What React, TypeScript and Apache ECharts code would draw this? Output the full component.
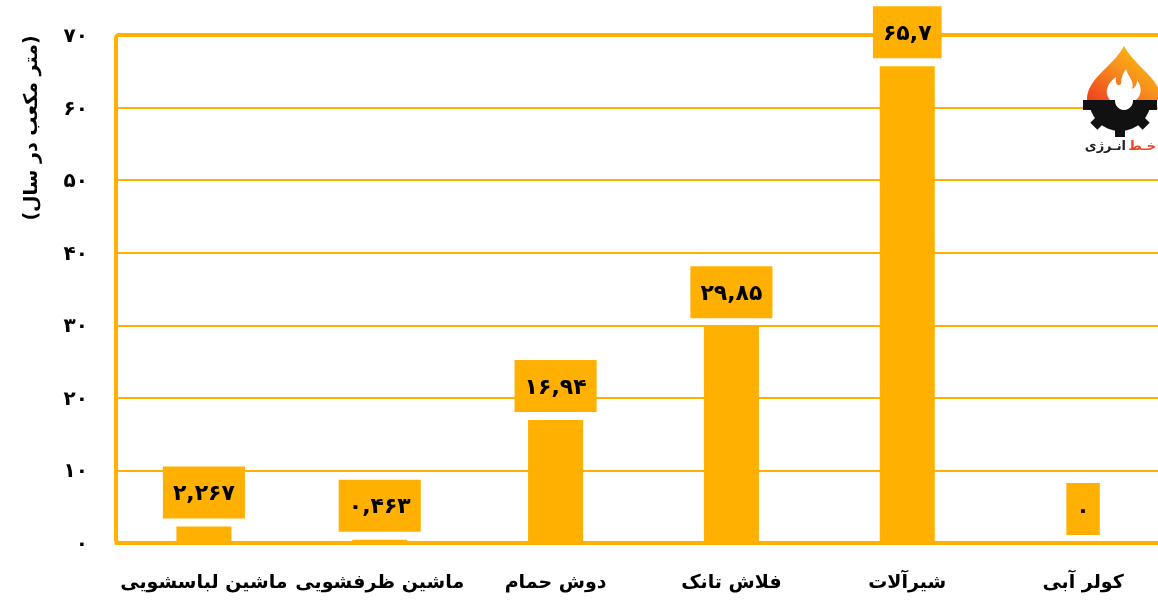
import React, { useEffect, useRef } from "react";
import * as echarts from "echarts";

const categories = [
  "ماشین لباسشویی",
  "ماشین ظرفشویی",
  "دوش حمام",
  "فلاش تانک",
  "شیرآلات",
  "کولر آبی",
];
const values = [2.267, 0.463, 16.94, 29.85, 65.7, 0];
const yMin = 0;
const yMax = 70;
const yStep = 10;
const yAxisTitle = "(متر مکعب در سال)";
const logoRed = "خـط";
const logoBlack = "انـرژی";

const ORANGE = "#FFB000";
const FONT = "DejaVu Sans";

const toFa = (v: number | string) =>
  String(v)
    .replace(/\./g, ",")
    .replace(/[0-9]/g, (d) => "۰۱۲۳۴۵۶۷۸۹"[Number(d)]);

let registered = false;
function registerShapes() {
  if (registered) return;
  registered = true;
  echarts.graphic.registerShape(
    "flameOuter",
    echarts.graphic.extendPath(
      "M1087 100 C1087 78 1112 68 1124 46 C1136 68 1161 78 1161 100 Z",
      {}
    ) as any
  );
  echarts.graphic.registerShape(
    "flameInner",
    echarts.graphic.extendPath(
      "M1110 100 C1103 91 1109 82 1116 77 C1115 84 1118 87 1121 84 C1121 78 1123 73 1126 69 C1128 77 1135 81 1132 89 C1136 87 1137 84 1137 80 C1143 88 1141 96 1136 100 Z",
      {}
    ) as any
  );
}

export default function App() {
  const ref = useRef<HTMLDivElement>(null);
  useEffect(() => {
    if (!ref.current) return;
    registerShapes();
    const chart = echarts.init(ref.current, undefined, { renderer: "svg" });

    const gx = 1120;
    const gy = 100;
    const teeth = [0, 45, 90, 135, 180].map((deg) => {
      const a = (deg * Math.PI) / 180;
      const R = 31;
      const cx = gx + R * Math.cos(a);
      const cy = gy + R * Math.sin(a) + (deg === 0 || deg === 180 ? 5 : 0);
      return {
        type: "rect",
        x: cx,
        y: cy,
        rotation: -a,
        shape: { x: -6, y: -5, width: 12, height: 10 },
        style: { fill: "#111" },
        z: 10,
      };
    });

    chart.setOption({
      animation: false,
      grid: {
        left: 116,
        top: 35,
        width: 1055,
        height: 508,
        containLabel: false,
        outerBoundsMode: "none",
      },
      xAxis: {
        type: "category",
        data: categories,
        axisLine: { show: true, lineStyle: { color: ORANGE, width: 3 } },
        axisTick: { show: false },
        axisLabel: {
          interval: 0,
          margin: 28,
          color: "#000",
          fontFamily: FONT,
          fontWeight: "bold",
          fontSize: 19,
        },
      },
      yAxis: {
        type: "value",
        min: yMin,
        max: yMax,
        interval: yStep,
        axisLine: { show: false },
        axisTick: { show: false },
        splitLine: { lineStyle: { color: ORANGE, width: 2 } },
        axisLabel: {
          margin: 28,
          color: "#000",
          fontFamily: FONT,
          fontWeight: "bold",
          fontSize: 20,
          formatter: (v: number) => toFa(v),
        },
      },
      series: [
        {
          type: "bar",
          data: values,
          barWidth: 55,
          z: 3,
          itemStyle: { color: ORANGE },
          label: {
            show: true,
            position: "top",
            distance: 8,
            formatter: (p: any) => toFa(p.value),
            backgroundColor: ORANGE,
            color: "#000",
            fontFamily: FONT,
            fontWeight: "bold",
            fontSize: 22,
            lineHeight: 22,
            padding: [15, 10],
          },
        },
      ],
      graphic: [
        {
          type: "rect",
          z: 1,
          shape: { x: 116, y: 35, width: 1100, height: 508, r: 3 },
          style: { fill: "none", stroke: ORANGE, lineWidth: 4 },
        },
        {
          type: "text",
          x: 30,
          y: 128,
          rotation: Math.PI / 2,
          style: {
            text: yAxisTitle,
            fontFamily: FONT,
            fontWeight: "bold",
            fontSize: 19,
            fill: "#000",
            align: "center",
            verticalAlign: "middle",
          },
        },
        {
          type: "flameOuter",
          x: 0,
          y: 0,
          z: 10,
          style: {
            fill: new echarts.graphic.LinearGradient(0, 1, 1, 0, [
              { offset: 0, color: "#EE3F1C" },
              { offset: 0.5, color: "#F7901E" },
              { offset: 1, color: "#FFD000" },
            ]),
          },
        },
        {
          type: "flameInner",
          x: 0,
          y: 0,
          z: 11,
          style: { fill: "#fff" },
        },
        {
          type: "sector",
          z: 10,
          shape: { cx: gx, cy: gy, r: 31, r0: 0, startAngle: 0, endAngle: Math.PI, clockwise: true },
          style: { fill: "#111" },
        },
        ...teeth,
        {
          type: "circle",
          z: 12,
          shape: { cx: gx + 4, cy: gy + 1, r: 9 },
          style: { fill: "#fff" },
        },
        {
          type: "text",
          x: 1156,
          y: 145,
          z: 10,
          style: {
            text: logoRed,
            fontFamily: FONT,
            fontWeight: "bold",
            fontSize: 13,
            fill: "#E8471C",
            align: "right",
            verticalAlign: "middle",
          },
        },
        {
          type: "text",
          x: 1126,
          y: 145,
          z: 10,
          style: {
            text: logoBlack,
            fontFamily: FONT,
            fontWeight: "bold",
            fontSize: 13,
            fill: "#222",
            align: "right",
            verticalAlign: "middle",
          },
        },
      ],
    });
    return () => chart.dispose();
  }, []);
  return (
    <div
      ref={ref}
      style={{ position: "fixed", left: 0, top: 0, width: 1158, height: 600 }}
    />
  );
}
